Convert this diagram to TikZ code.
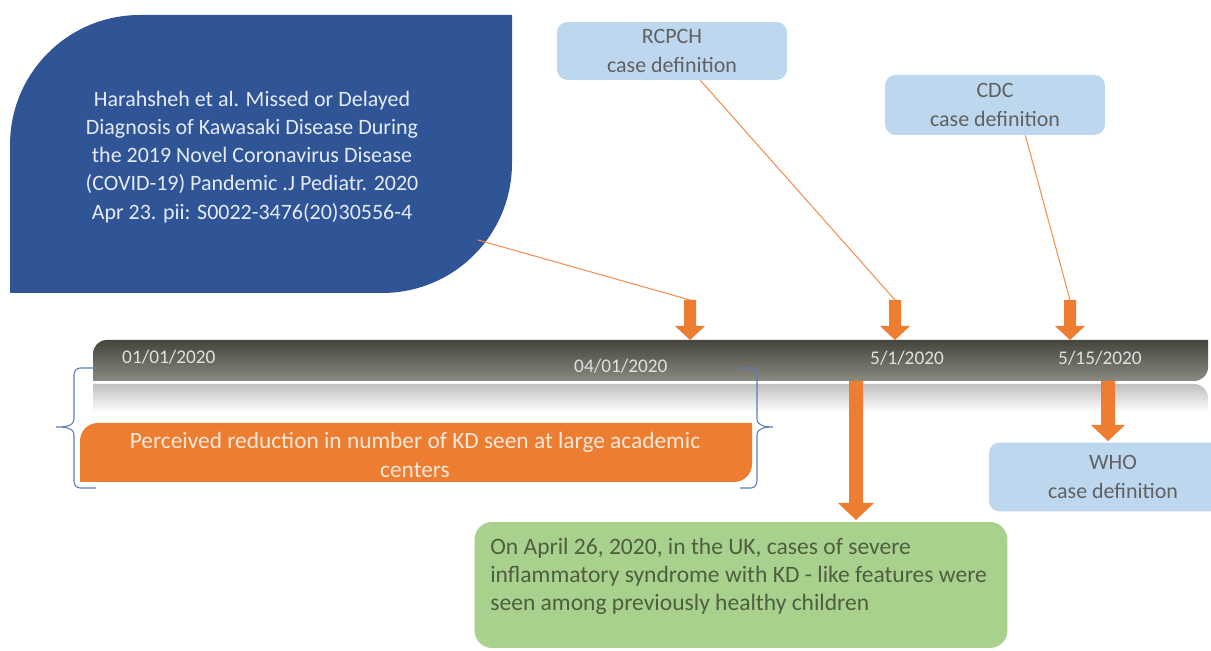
\documentclass[tikz,border=0pt]{standalone}
\usepackage{fontspec}
\setmainfont{Carlito}
\usetikzlibrary{positioning}

\definecolor{refblue}{HTML}{2F5597}
\definecolor{boxblue}{HTML}{BDD7EE}
\definecolor{kdorange}{HTML}{ED7D31}
\definecolor{boxgreen}{HTML}{A9D18E}
\definecolor{uktextcol}{HTML}{4E5E3E}
\definecolor{bartop}{HTML}{45453D}
\definecolor{barbot}{HTML}{8A8A80}
\definecolor{bracecol}{HTML}{5B7DB8}

\tikzset{
  defbox/.style={fill=boxblue, rounded corners=6pt, inner sep=0pt, text=black!62,
    align=center, font=\fontsize{12.5}{16.5}\selectfont},
  datelbl/.style={anchor=west, text=white!88!black, font=\fontsize{11}{13}\selectfont},
  link/.style={draw=kdorange!85, line width=0.6pt},
  brace/.style={draw=bracecol, line width=0.6pt},
}

% block arrow: name, x, top, tip, half shaft, half head, head length
\newcommand{\blockarr}[7]{%
  \coordinate (#1) at (#2,#3);
  \fill[kdorange] ({#2-#5},#3) -- ({#2+#5},#3) -- ({#2+#5},{#4-#7}) -- ({#2+#6},{#4-#7})
    -- (#2,#4) -- ({#2-#6},{#4-#7}) -- ({#2-#5},{#4-#7}) -- cycle;}

\begin{document}
\begin{tikzpicture}[x=0.02cm, y=-0.02cm]
  \useasboundingbox (0,0) rectangle (1211,651);

  % reference box
  \fill[refblue] (10,293) -- (10,145) .. controls (10,73) and (68,15) .. (140,15)
    -- (512,15) -- (512,163) .. controls (512,235) and (454,293) .. (382,293) -- cycle;
  \node[text=white!88!refblue, align=center, font=\fontsize{12.5}{16}\selectfont] (ref) at (252,157)
    {Harahsheh et al. Missed or Delayed\\Diagnosis of Kawasaki Disease During\\
     the 2019 Novel Coronavirus Disease\\(COVID-19) Pandemic .J Pediatr. 2020\\
     Apr 23. pii: S0022-3476(20)30556-4};
  \coordinate (refend) at (478,240);

  % case definitions
  \node[defbox, minimum width=4.6cm, minimum height=1.16cm] (rcpch) at (672,51) {RCPCH\\case definition};
  \node[defbox, minimum width=4.4cm, minimum height=1.2cm] (cdc) at (995,105) {CDC\\case definition};
  \node[defbox, minimum width=4.96cm, minimum height=1.38cm] (who) at (1113,477) {WHO\\case definition};

  % timeline bar and its reflection
  \shade[top color=black!25, bottom color=white] (93,384) -- (1194,384) .. controls (1202,384) and (1208,390) .. (1208,398)
    -- (1208,412) -- (93,412) -- cycle;
  \shade[top color=bartop, bottom color=barbot] (93,381) -- (93,354) .. controls (93,346) and (99,340) .. (107,340)
    -- (1208,340) -- (1208,367) .. controls (1208,375) and (1202,381) .. (1194,381) -- cycle;
  \node[datelbl] (d1) at (116,357) {01/01/2020};
  \node[datelbl] (d2) at (568,366) {04/01/2020};
  \node[datelbl] (d3) at (864,358) {5/1/2020};
  \node[datelbl] (d4) at (1052,358) {5/15/2020};

  % arrows onto the bar
  \blockarr{a1}{690}{300}{340}{6}{15}{14}
  \blockarr{a2}{895}{300}{340}{6}{15}{14}
  \blockarr{a3}{1070}{300}{340}{6}{15}{14}
  \blockarr{a4}{856}{381}{520}{7}{18}{17}
  \blockarr{a5}{1108}{381}{441}{7}{17}{16}

  \draw[link] (refend) -- (a1);
  \draw[link] (rcpch.314) -- (a2);
  \draw[link] (cdc.315) -- (a3);

  % reduction period
  \fill[kdorange] (80,482) -- (80,441) .. controls (80,431) and (88,423) .. (98,423)
    -- (752,423) -- (752,464) .. controls (752,474) and (744,482) .. (734,482) -- cycle;
  \node[text=kdorange!18!white, align=center, font=\fontsize{13.3}{16}\selectfont] (kd) at (415,455)
    {Perceived reduction in number of KD seen at large academic\\centers};
  \draw[brace] (96,368) -- (80,368) to[out=180,in=90] (74,375) -- (74,419) to[out=270,in=0] (56,427)
    to[out=0,in=90] (74,435) -- (74,481) to[out=270,in=180] (80,488) -- (96,488);
  \draw[brace] (740,368) -- (751,368) to[out=0,in=90] (757,375) -- (757,419) to[out=270,in=180] (773,427)
    to[out=180,in=90] (757,435) -- (757,481) to[out=270,in=0] (751,488) -- (740,488);

  % UK cases
  \node[fill=boxgreen, rounded corners=10pt, minimum width=10.66cm, minimum height=2.52cm] (uk) at (741,585) {};
  \node[anchor=north west, align=left, text=uktextcol, font=\fontsize{13.4}{16}\selectfont,
    inner sep=0pt] (uktxt) at (490,538)
    {On April 26, 2020, in the UK, cases of severe\\inflammatory syndrome with KD - like features were\\
     seen among previously healthy children};
\end{tikzpicture}
\end{document}
